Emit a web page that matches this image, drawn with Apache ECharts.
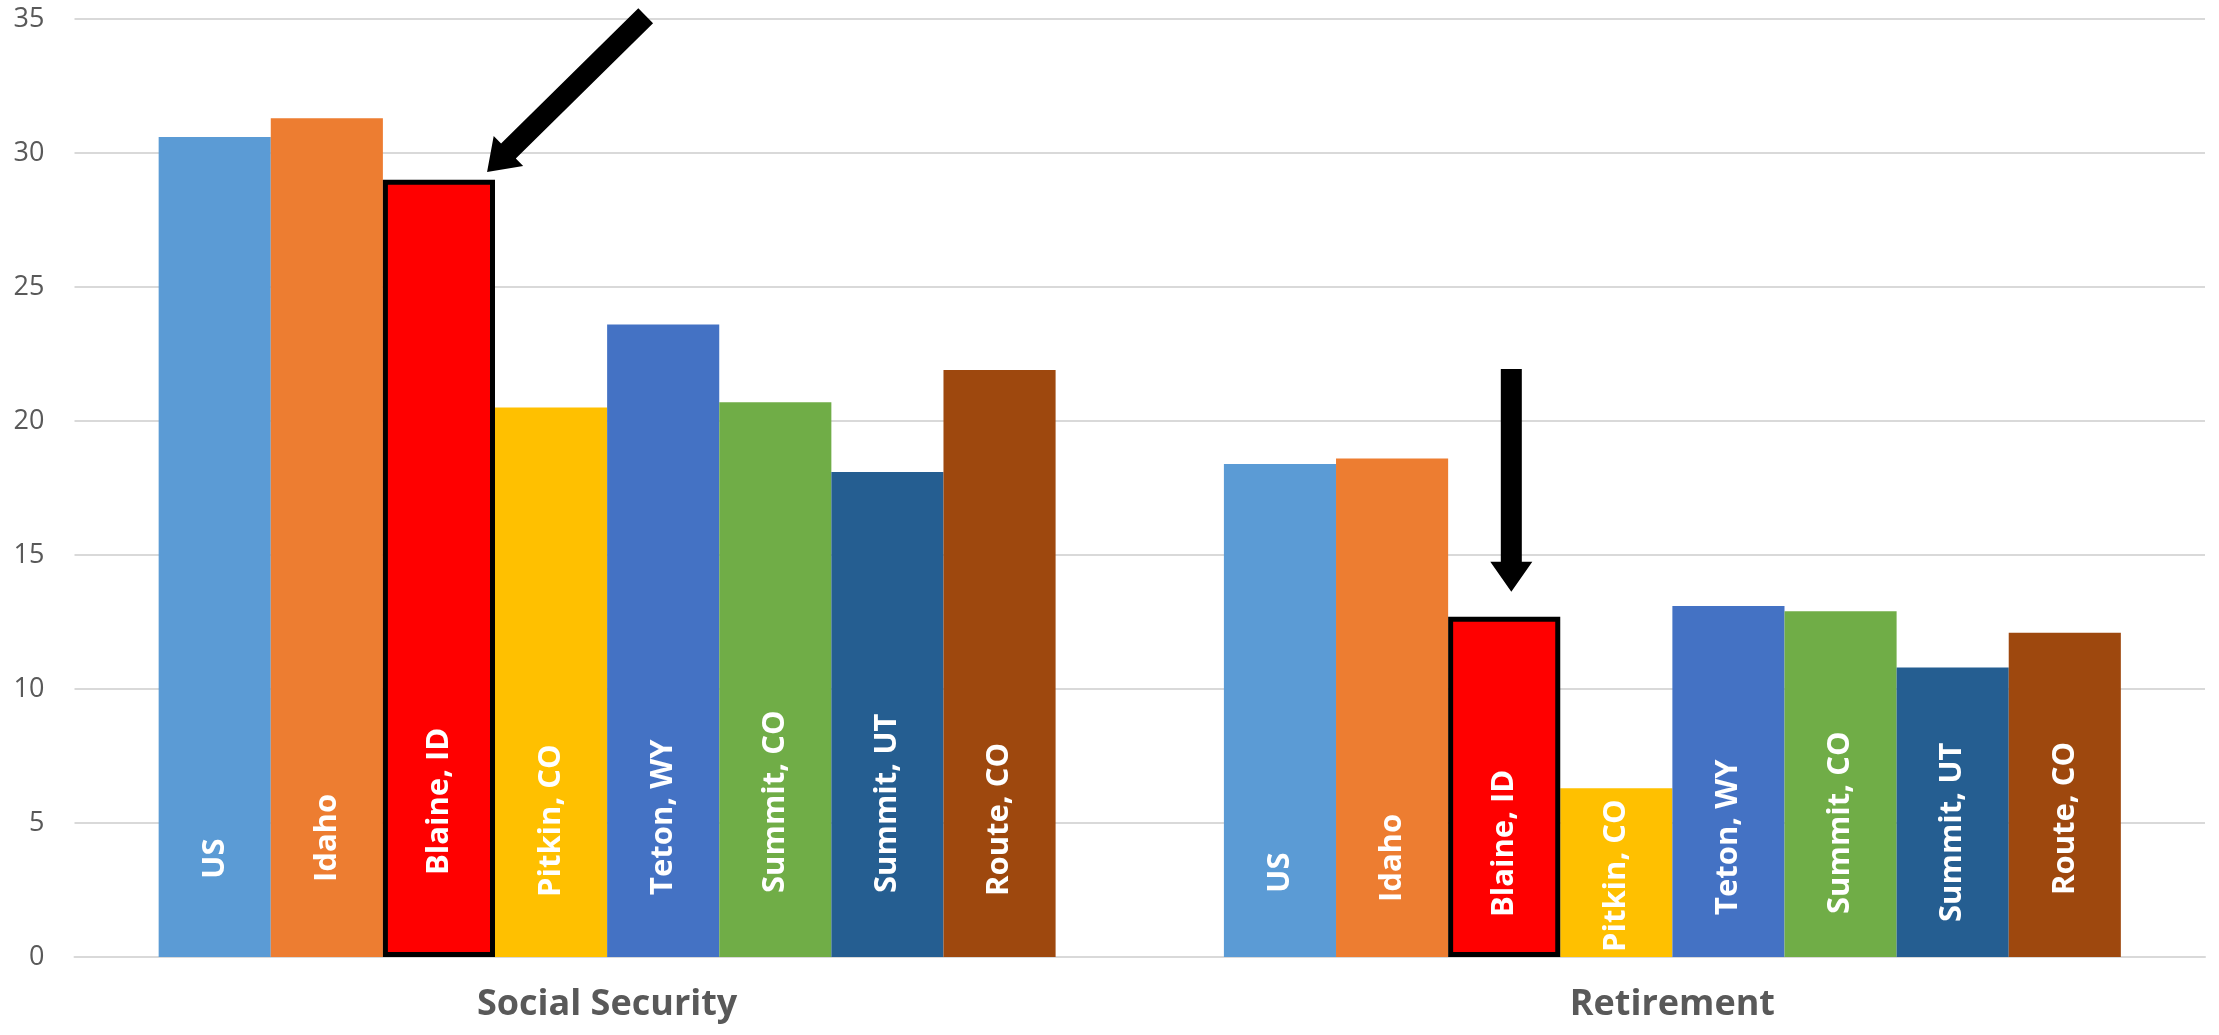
<!DOCTYPE html>
<html>
<head>
<meta charset="utf-8">
<script src="https://cdn.jsdelivr.net/npm/echarts@6/dist/echarts.min.js"></script>
<style>
html,body{margin:0;padding:0;background:#fff;}
#chart{width:2219px;height:1035px;}
</style>
</head>
<body>
<div id="chart"></div>
<script>
// ---- data ----
var categories = ['Social Security', 'Retirement'];
var regions = ['US', 'Idaho', 'Blaine, ID', 'Pitkin, CO', 'Teton, WY', 'Summit, CO', 'Summit, UT', 'Route, CO'];
var usValues       = [30.6, 18.4];
var idahoValues    = [31.3, 18.6];
var blaineValues   = [29.0, 12.7];
var pitkinValues   = [20.5, 6.3];
var tetonValues    = [23.6, 13.1];
var summitCOValues = [20.7, 12.9];
var summitUTValues = [18.1, 10.8];
var routeValues    = [21.9, 12.1];
var yTicks = [0, 5, 10, 15, 20, 25, 30, 35];
// arrow annotations: [tailX, tailY, tipX, tipY] in (group position 0..2, value) units
var arrows = [
  [0.5362, 35.12, 0.3873, 29.29],
  [1.3488, 21.94, 1.3488, 13.63]
];

// ---- style ----
var seriesValues = [usValues, idahoValues, blaineValues, pitkinValues, tetonValues, summitCOValues, summitUTValues, routeValues];
var colors = ['#5B9BD5', '#ED7D31', '#FF0000', '#FFC000', '#4472C4', '#70AD47', '#255E91', '#9E480E'];
// in-bar label distance from bar base (px), per region per category
var labelDistance = [
  [78, 64], [75, 55], [82, 40], [60, 5], [62, 42], [64, 43], [64, 35], [61, 62]
];
var highlighted = 'Blaine, ID';

var chart = echarts.init(document.getElementById('chart'), null, {renderer: 'canvas'});

var series = regions.map(function (name, i) {
  var isHi = name === highlighted;
  return {
    name: name,
    type: 'bar',
    xAxisIndex: 0,
    yAxisIndex: 0,
    data: seriesValues[i].map(function (v, j) {
      return {value: v, label: {distance: labelDistance[i][j]}};
    }),
    barGap: '0%',
    barCategoryGap: '15.8%',
    itemStyle: {
      color: colors[i],
      borderColor: isHi ? '#000000' : colors[i],
      borderWidth: isHi ? 5 : 0
    },
    label: {
      show: true,
      position: 'insideBottom',
      rotate: 90,
      align: 'left',
      verticalAlign: 'middle',
      formatter: '{a}',
      color: '#ffffff',
      fontFamily: 'Open Sans',
      fontWeight: 'bold',
      fontSize: 31,
      width: 400,
      overflow: 'none'
    },
    labelLayout: {hideOverlap: false},
    z: isHi ? 3 : 2
  };
});

series.push({
  type: 'custom',
  name: 'arrows',
  xAxisIndex: 1,
  yAxisIndex: 0,
  clip: false,
  z: 10,
  data: arrows,
  encode: {x: [0, 2], y: [1, 3]},
  renderItem: function (params, api) {
    var s = api.coord([api.value(0), api.value(1)]);
    var t = api.coord([api.value(2), api.value(3)]);
    var dx = t[0] - s[0], dy = t[1] - s[1];
    var len = Math.sqrt(dx * dx + dy * dy);
    var ux = dx / len, uy = dy / len;
    var nx = -uy, ny = ux;
    var w = 10.5, H = 21, L = 30;
    var bx = t[0] - ux * L, by = t[1] - uy * L;
    var pts = [
      [s[0] + nx * w, s[1] + ny * w],
      [bx + nx * w, by + ny * w],
      [bx + nx * H, by + ny * H],
      [t[0], t[1]],
      [bx - nx * H, by - ny * H],
      [bx - nx * w, by - ny * w],
      [s[0] - nx * w, s[1] - ny * w]
    ];
    return {
      type: 'polygon',
      shape: {points: pts},
      style: {fill: '#000000'}
    };
  }
});

var option = {
  animation: false,
  backgroundColor: '#ffffff',
  grid: {left: 74.5, right: 14, top: 19, bottom: 78, containLabel: false},
  xAxis: [
    {
      type: 'category',
      data: categories,
      axisLine: {show: true, lineStyle: {color: '#d9d9d9', width: 2}},
      axisTick: {show: false},
      axisLabel: {
        margin: 30,
        color: '#595959',
        fontFamily: 'Open Sans',
        fontWeight: 'bold',
        fontSize: 36
      }
    },
    {
      type: 'value',
      min: 0,
      max: 2,
      show: false
    }
  ],
  yAxis: {
    type: 'value',
    min: yTicks[0],
    max: yTicks[yTicks.length - 1],
    interval: yTicks[1] - yTicks[0],
    axisLine: {show: false},
    axisTick: {show: false},
    splitLine: {show: true, lineStyle: {color: '#d9d9d9', width: 2}},
    axisLabel: {
      margin: 30,
      color: '#595959',
      fontFamily: 'Open Sans',
      fontSize: 27
    }
  },
  series: series
};

chart.setOption(option);
</script>
</body>
</html>
